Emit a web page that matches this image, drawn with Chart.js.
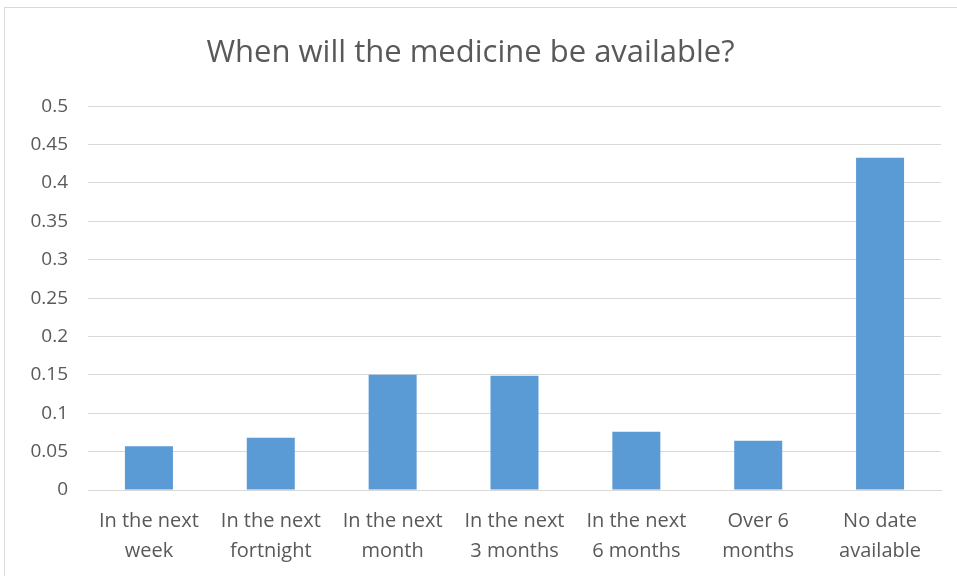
<!DOCTYPE html>
<html>
<head>
<meta charset="utf-8">
<script src="https://cdn.jsdelivr.net/npm/chart.js@4/dist/chart.umd.min.js"></script>
<style>
  html, body { margin: 0; padding: 0; background: #ffffff; overflow: hidden; }
  #wrap { position: relative; width: 957px; height: 576px; }
  #frame { position: absolute; left: 4px; top: 7px; width: 1000px; height: 600px; border: 1px solid #d9d9d9; box-sizing: border-box; }
  canvas { position: absolute; left: 0; top: 0; }
</style>
</head>
<body>
<div id="wrap">
  <div id="frame"></div>
  <canvas id="c" width="957" height="576"></canvas>
</div>
<script>
const categories = [
  ["In the next", "week"],
  ["In the next", "fortnight"],
  ["In the next", "month"],
  ["In the next", "3 months"],
  ["In the next", "6 months"],
  ["Over 6", "months"],
  ["No date", "available"]
];
const shares = [0.057, 0.068, 0.150, 0.149, 0.076, 0.064, 0.433];
const titleText = "When will the medicine be available?";

const FONT = "'Open Sans', sans-serif";

new Chart(document.getElementById('c'), {
  type: 'bar',
  data: {
    labels: categories,
    datasets: [{
      data: shares,
      backgroundColor: '#5b9bd5',
      borderWidth: 0,
      categoryPercentage: 1.0,
      barPercentage: 0.394
    }]
  },
  options: {
    responsive: false,
    animation: false,
    layout: { padding: { left: 0, right: 16, top: 0, bottom: 0 } },
    plugins: {
      legend: { display: false },
      tooltip: { enabled: false },
      title: {
        display: true,
        text: titleText,
        color: '#595959',
        font: { family: FONT, size: 31, weight: 'normal', lineHeight: 1.2 },
        padding: { top: 35, bottom: 34 }
      }
    },
    scales: {
      x: {
        grid: { display: false, drawTicks: false },
        border: { display: true, color: '#d9d9d9', width: 1 },
        ticks: {
          color: '#595959',
          font: { family: FONT, size: 20, lineHeight: 1.5 },
          padding: 16,
          maxRotation: 0,
          autoSkip: false
        },
        afterFit: (s) => { s.height = 86; }
      },
      y: {
        min: 0,
        max: 0.5,
        grid: { color: '#d9d9d9', lineWidth: 1, drawTicks: false },
        border: { display: false },
        ticks: {
          stepSize: 0.05,
          color: '#595959',
          font: { family: FONT, size: 19 },
          padding: 20,
          callback: (v) => String(parseFloat(Number(v).toFixed(2)))
        },
        afterFit: (s) => { s.width = 88; }
      }
    }
  }
});
</script>
</body>
</html>
